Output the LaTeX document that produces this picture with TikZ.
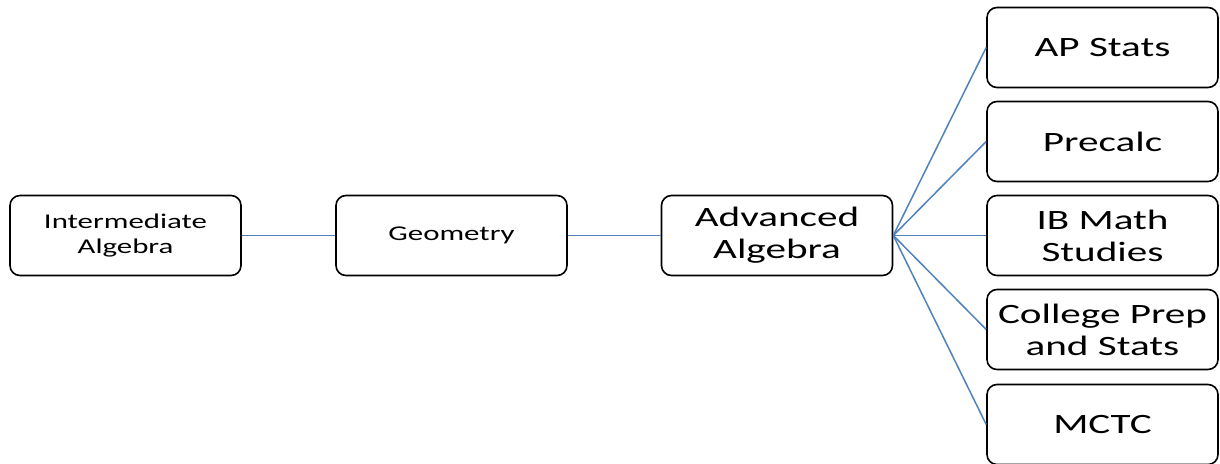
\documentclass[tikz,border=0pt]{standalone}
\usepackage{fontspec}
\setmainfont[FakeStretch=1.47]{Carlito}
\begin{document}
\begin{tikzpicture}[x=1pt,y=-1pt,
  box/.style={draw=black,line width=1.6pt,rounded corners=10pt,fill=white,
    minimum width=231pt,minimum height=80pt,align=center,inner sep=0pt},
  big/.style={font=\fontsize{28}{32}\selectfont},
  small/.style={font=\fontsize{21}{25}\selectfont},
  conn/.style={draw={rgb,255:red,79;green,129;blue,189},line width=1.5pt}]
\useasboundingbox (0,0) rectangle (1220,463);
\node[box,small] (ia) at (125.5,235.5) {Intermediate\\Algebra};
\node[box,small] (geo) at (451.5,235.5) {Geometry};
\node[box,big] (adv) at (777,235.5) {Advanced\\Algebra};
\node[box,big] (ap) at (1102.5,47.5) {AP Stats};
\node[box,big] (pre) at (1102.5,141.5) {Precalc};
\node[box,big] (ib) at (1102.5,235.5) {IB Math\\Studies};
\node[box,big] (cp) at (1102.5,329.5) {College Prep\\and Stats};
\node[box,big] (mctc) at (1102.5,424.5) {MCTC};
\draw[conn] (ia.east) -- (geo.west);
\draw[conn] (geo.east) -- (adv.west);
\foreach \t in {ap,pre,ib,cp,mctc}{\draw[conn] (adv.east) -- (\t.west);}
\end{tikzpicture}
\end{document}
